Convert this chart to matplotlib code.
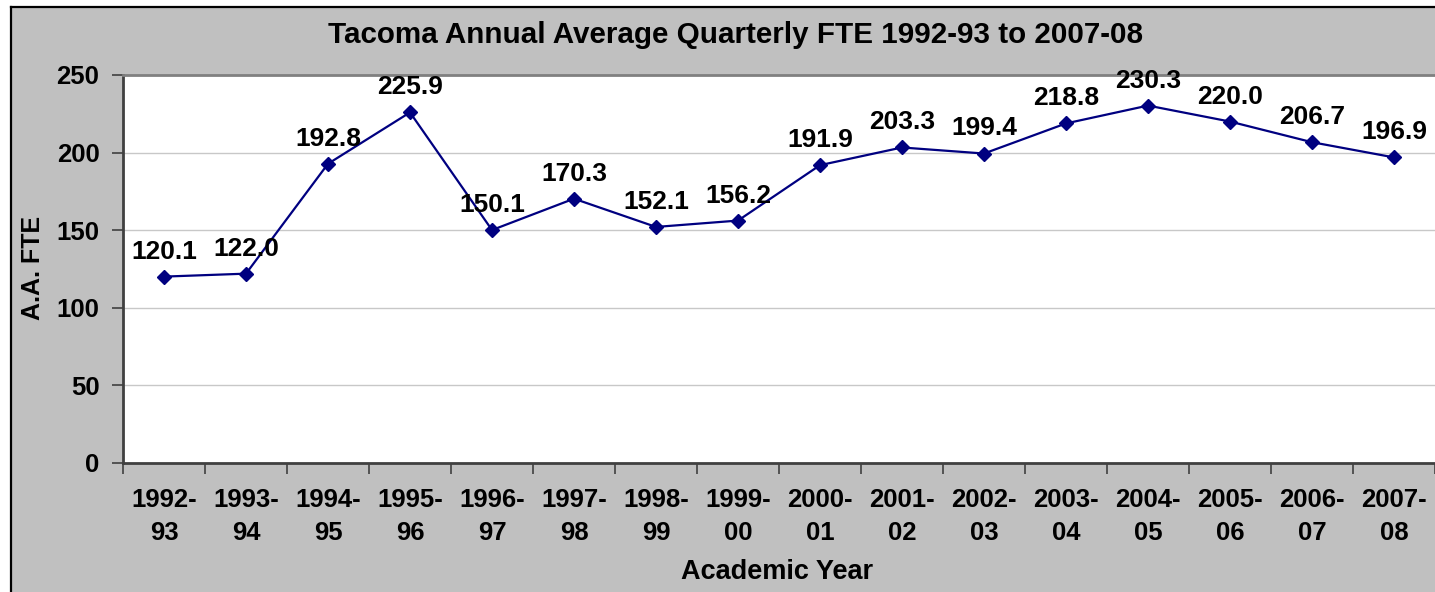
import matplotlib
matplotlib.use("Agg")
import matplotlib.pyplot as plt
from matplotlib.patches import Rectangle
from matplotlib.lines import Line2D

# =========================================================
# DATA
# =========================================================

years = [
    "1992-\n93", "1993-\n94", "1994-\n95", "1995-\n96",
    "1996-\n97", "1997-\n98", "1998-\n99", "1999-\n00",
    "2000-\n01", "2001-\n02", "2002-\n03", "2003-\n04",
    "2004-\n05", "2005-\n06", "2006-\n07", "2007-\n08",
]

fte = [
    120.1, 122.0, 192.8, 225.9, 150.1, 170.3, 152.1, 156.2,
    191.9, 203.3, 199.4, 218.8, 230.3, 220.0, 206.7, 196.9,
]

y_ticks = [0, 50, 100, 150, 200, 250]

title = "Tacoma Annual Average Quarterly FTE 1992-93 to 2007-08"

# =========================================================
# FIGURE
# =========================================================

plt.rcParams["font.family"] = ["Liberation Sans", "DejaVu Sans"]
plt.rcParams["font.weight"] = "bold"

W, H = 1435, 592
fig = plt.figure(figsize=(W / 100, H / 100), dpi=100, facecolor="white")

# gray chart area, border only on left and top (rest is cut off)
left_edge = 11 / W
top_edge = 1 - 7 / H
fig.add_artist(Rectangle(
    (left_edge, 0), 1 - left_edge, top_edge,
    transform=fig.transFigure,
    facecolor="#C0C0C0", edgecolor="none", zorder=-10,
))
fig.add_artist(Line2D([left_edge, left_edge], [0, top_edge],
                      transform=fig.transFigure, color="black", linewidth=1.6))
fig.add_artist(Line2D([left_edge, 1], [top_edge, top_edge],
                      transform=fig.transFigure, color="black", linewidth=1.6))

ax = fig.add_axes([123 / W, 1 - 463 / H, 1 - 123 / W, (463 - 75) / H])
ax.set_facecolor("white")

x = list(range(len(fte)))

ax.plot(
    x, fte,
    color="#000080",
    linewidth=1.6,
    marker="D",
    markersize=7.5,
    markerfacecolor="#000080",
    markeredgecolor="#000080",
    zorder=3,
)

for xi, v in zip(x, fte):
    ax.annotate(
        f"{v:.1f}",
        (xi, v),
        xytext=(0, 13),
        textcoords="offset points",
        ha="center",
        va="baseline",
        fontsize=19,
        fontweight="bold",
        zorder=4,
    )

ax.set_xlim(-0.5, len(fte) - 0.5)
ax.set_ylim(0, 250)

ax.set_yticks(y_ticks)
ax.set_yticklabels([str(t) for t in y_ticks], fontsize=18.5, fontweight="bold")
ax.tick_params(axis="y", direction="out", length=8, width=1.2,
               color="#404040", pad=9)

ax.set_xticks(x)
ax.set_xticklabels(years, fontsize=18.5, fontweight="bold", linespacing=1.5)
ax.set_xticks([i - 0.5 for i in range(len(fte) + 1)], minor=True)
ax.tick_params(axis="x", which="major", length=0, pad=18)
ax.tick_params(axis="x", which="minor", direction="out", length=8,
               width=1.2, color="#404040")

for g in y_ticks[1:-1]:
    ax.axhline(g, color="#C8C8C8", linewidth=1.0, zorder=1)

ax.spines["left"].set_color("#404040")
ax.spines["left"].set_linewidth(2)
ax.spines["bottom"].set_color("#404040")
ax.spines["bottom"].set_linewidth(2)
ax.spines["top"].set_color("#808080")
ax.spines["top"].set_linewidth(2)
ax.spines["right"].set_visible(False)

fig.text(735 / W, 1 - 35 / H, title, ha="center", va="center",
         fontsize=21.3, fontweight="bold")
fig.text(777 / W, 1 - 572 / H, "Academic Year", ha="center", va="center",
         fontsize=19.5, fontweight="bold")
fig.text(33 / W, 1 - 268 / H, "A.A. FTE", ha="center", va="center",
         rotation=90, fontsize=18, fontweight="bold")

fig.savefig("out.png", dpi=100, facecolor="white")
